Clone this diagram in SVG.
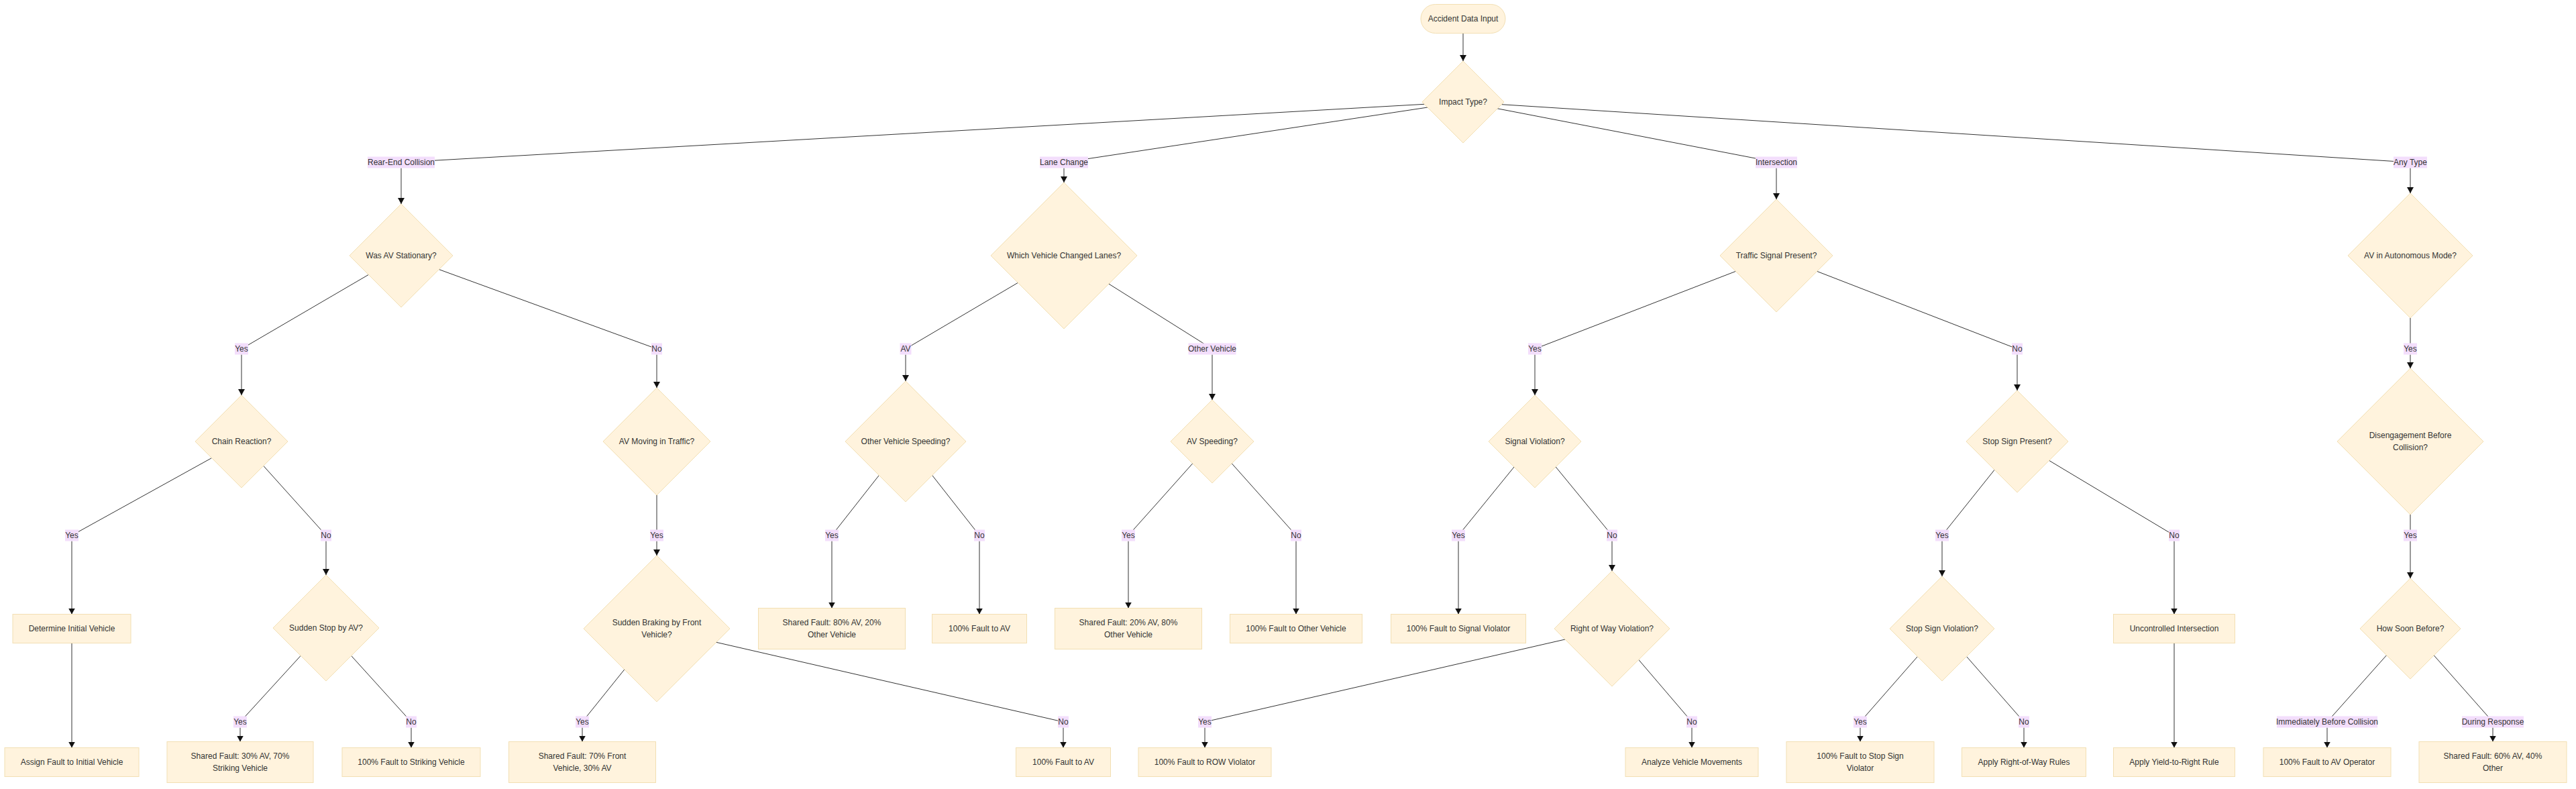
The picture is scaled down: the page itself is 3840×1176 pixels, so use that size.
<svg xmlns="http://www.w3.org/2000/svg" width="3840" height="1176" viewBox="0 0 3840 1176">
<style>
.n{fill:#fff3dd;stroke:#f2dfb3;stroke-width:1}
.t{font-family:"Liberation Sans",Arial,sans-serif;font-size:12px;fill:#333;text-anchor:middle;dominant-baseline:central}
.lb{fill:#f3defc}
.e{stroke:#333;stroke-width:1;fill:none}
.a{stroke:#333;stroke-width:1;fill:none;marker-end:url(#arr)}
</style>
<defs>
<marker id="arr" viewBox="0 0 9 10" refX="9" refY="5" markerWidth="9" markerHeight="10" markerUnits="userSpaceOnUse" orient="auto">
<path d="M0,0 L9,5 L0,10 z" fill="#111"/>
</marker>
</defs>
<rect width="3840" height="1176" fill="#fff"/>
<g id="connectors">
<path class="a" d="M2181,49.5 L2181,91"/>
<path class="e" d="M2123.3,155.3 L598,242"/><path class="a" d="M598,250.5 L598,304"/>
<path class="e" d="M2128.1,160 L1586,242"/><path class="a" d="M1586,250.5 L1586,272"/>
<path class="e" d="M2232.1,161.8 L2648,242"/><path class="a" d="M2648,250.5 L2648,297"/>
<path class="e" d="M2238.3,155.7 L3593,242"/><path class="a" d="M3593,250.5 L3593,288"/>
<path class="e" d="M549.4,409.4 L360,520"/><path class="a" d="M360,528.5 L360,589"/>
<path class="e" d="M654.4,401.6 L979,520"/><path class="a" d="M979,528.5 L979,578"/>
<path class="e" d="M1517.4,421.4 L1350,520"/><path class="a" d="M1350,528.5 L1350,568"/>
<path class="e" d="M1652.9,423.1 L1807,520"/><path class="a" d="M1807,528.5 L1807,596"/>
<path class="e" d="M2587.4,404.4 L2288,520"/><path class="a" d="M2288,528.5 L2288,589"/>
<path class="e" d="M2708.6,404.4 L3007,520"/><path class="a" d="M3007,528.5 L3007,582"/>
<path class="e" d="M3593,474 L3593,520"/><path class="a" d="M3593,528.5 L3593,549"/>
<path class="e" d="M315.6,682.6 L107,798"/><path class="a" d="M107,806.5 L107,915.5"/>
<path class="e" d="M392.7,694.3 L486,798"/><path class="a" d="M486,806.5 L486,857"/>
<path class="e" d="M979,738 L979,798"/><path class="a" d="M979,806.5 L979,828"/>
<path class="e" d="M1310.4,708.4 L1240,798"/><path class="a" d="M1240,806.5 L1240,906.5"/>
<path class="e" d="M1389.6,708.4 L1460,798"/><path class="a" d="M1460,806.5 L1460,915.5"/>
<path class="e" d="M1777.8,690.8 L1682,798"/><path class="a" d="M1682,806.5 L1682,906.5"/>
<path class="e" d="M1836.2,690.8 L1932,798"/><path class="a" d="M1932,806.5 L1932,915.5"/>
<path class="e" d="M2257,696 L2174,798"/><path class="a" d="M2174,806.5 L2174,915.5"/>
<path class="e" d="M2319.1,695.9 L2403,798"/><path class="a" d="M2403,806.5 L2403,851"/>
<path class="e" d="M2973.2,700.2 L2895,798"/><path class="a" d="M2895,806.5 L2895,859"/>
<path class="e" d="M3054.6,686.4 L3241,798"/><path class="a" d="M3241,806.5 L3241,915.5"/>
<path class="e" d="M3593,767 L3593,798"/><path class="a" d="M3593,806.5 L3593,862"/>
<path class="a" d="M107,958.5 L107,1114.5"/>
<path class="e" d="M448.3,977.3 L358,1076"/><path class="a" d="M358,1084.5 L358,1105.5"/>
<path class="e" d="M523.6,977.4 L613,1076"/><path class="a" d="M613,1084.5 L613,1114.5"/>
<path class="e" d="M930.8,997.9 L868,1076"/><path class="a" d="M868,1084.5 L868,1105.5"/>
<path class="e" d="M1067.7,957.3 L1585,1076"/><path class="a" d="M1585,1084.5 L1585,1114.5"/>
<path class="e" d="M2333,953 L1796,1076"/><path class="a" d="M1796,1084.5 L1796,1114.5"/>
<path class="e" d="M2442.7,983.3 L2522,1076"/><path class="a" d="M2522,1084.5 L2522,1114.5"/>
<path class="e" d="M2858.5,978.5 L2773,1076"/><path class="a" d="M2773,1084.5 L2773,1105.5"/>
<path class="e" d="M2931.5,978.5 L3017,1076"/><path class="a" d="M3017,1084.5 L3017,1114.5"/>
<path class="a" d="M3241,958.5 L3241,1114.5"/>
<path class="e" d="M3557.6,976.6 L3469,1076"/><path class="a" d="M3469,1084.5 L3469,1114.5"/>
<path class="e" d="M3628.2,976.8 L3716,1076"/><path class="a" d="M3716,1084.5 L3716,1105.5"/>
</g>
<g id="edge-labels">
<g><rect class="lb" x="548" y="233.5" width="100" height="17"/><text class="t" x="598" y="242">Rear-End Collision</text></g>
<g><rect class="lb" x="1550" y="233.5" width="72" height="17"/><text class="t" x="1586" y="242">Lane Change</text></g>
<g><rect class="lb" x="2617" y="233.5" width="62" height="17"/><text class="t" x="2648" y="242">Intersection</text></g>
<g><rect class="lb" x="3568" y="233.5" width="50" height="17"/><text class="t" x="3593" y="242">Any Type</text></g>
<g><rect class="lb" x="350" y="511.5" width="20" height="17"/><text class="t" x="360" y="520">Yes</text></g>
<g><rect class="lb" x="971" y="511.5" width="16" height="17"/><text class="t" x="979" y="520">No</text></g>
<g><rect class="lb" x="1341.5" y="511.5" width="17" height="17"/><text class="t" x="1350" y="520">AV</text></g>
<g><rect class="lb" x="1771.5" y="511.5" width="71" height="17"/><text class="t" x="1807" y="520">Other Vehicle</text></g>
<g><rect class="lb" x="2278" y="511.5" width="20" height="17"/><text class="t" x="2288" y="520">Yes</text></g>
<g><rect class="lb" x="2999" y="511.5" width="16" height="17"/><text class="t" x="3007" y="520">No</text></g>
<g><rect class="lb" x="3583" y="511.5" width="20" height="17"/><text class="t" x="3593" y="520">Yes</text></g>
<g><rect class="lb" x="97" y="789.5" width="20" height="17"/><text class="t" x="107" y="798">Yes</text></g>
<g><rect class="lb" x="478" y="789.5" width="16" height="17"/><text class="t" x="486" y="798">No</text></g>
<g><rect class="lb" x="969" y="789.5" width="20" height="17"/><text class="t" x="979" y="798">Yes</text></g>
<g><rect class="lb" x="1230" y="789.5" width="20" height="17"/><text class="t" x="1240" y="798">Yes</text></g>
<g><rect class="lb" x="1452" y="789.5" width="16" height="17"/><text class="t" x="1460" y="798">No</text></g>
<g><rect class="lb" x="1672" y="789.5" width="20" height="17"/><text class="t" x="1682" y="798">Yes</text></g>
<g><rect class="lb" x="1924" y="789.5" width="16" height="17"/><text class="t" x="1932" y="798">No</text></g>
<g><rect class="lb" x="2164" y="789.5" width="20" height="17"/><text class="t" x="2174" y="798">Yes</text></g>
<g><rect class="lb" x="2395" y="789.5" width="16" height="17"/><text class="t" x="2403" y="798">No</text></g>
<g><rect class="lb" x="2885" y="789.5" width="20" height="17"/><text class="t" x="2895" y="798">Yes</text></g>
<g><rect class="lb" x="3233" y="789.5" width="16" height="17"/><text class="t" x="3241" y="798">No</text></g>
<g><rect class="lb" x="3583" y="789.5" width="20" height="17"/><text class="t" x="3593" y="798">Yes</text></g>
<g><rect class="lb" x="348" y="1067.5" width="20" height="17"/><text class="t" x="358" y="1076">Yes</text></g>
<g><rect class="lb" x="605" y="1067.5" width="16" height="17"/><text class="t" x="613" y="1076">No</text></g>
<g><rect class="lb" x="858" y="1067.5" width="20" height="17"/><text class="t" x="868" y="1076">Yes</text></g>
<g><rect class="lb" x="1577" y="1067.5" width="16" height="17"/><text class="t" x="1585" y="1076">No</text></g>
<g><rect class="lb" x="1786" y="1067.5" width="20" height="17"/><text class="t" x="1796" y="1076">Yes</text></g>
<g><rect class="lb" x="2514" y="1067.5" width="16" height="17"/><text class="t" x="2522" y="1076">No</text></g>
<g><rect class="lb" x="2763" y="1067.5" width="20" height="17"/><text class="t" x="2773" y="1076">Yes</text></g>
<g><rect class="lb" x="3009" y="1067.5" width="16" height="17"/><text class="t" x="3017" y="1076">No</text></g>
<g><rect class="lb" x="3394" y="1067.5" width="150" height="17"/><text class="t" x="3469" y="1076">Immediately Before Collision</text></g>
<g><rect class="lb" x="3670" y="1067.5" width="92" height="17"/><text class="t" x="3716" y="1076">During Response</text></g>
</g>
<g id="start"><rect class="n" x="2118" y="6.5" width="126" height="43" rx="21.5"/><text class="t" x="2181" y="28">Accident Data Input</text></g>
<g id="impact"><polygon class="n" points="2181,91 2242,152 2181,213 2120,152"/><text class="t" x="2181" y="152">Impact Type?</text></g>
<g id="was-av-stationary"><polygon class="n" points="598,304 675,381 598,458 521,381"/><text class="t" x="598" y="381">Was AV Stationary?</text></g>
<g id="which-vehicle"><polygon class="n" points="1586,272 1695,381 1586,490 1477,381"/><text class="t" x="1586" y="381">Which Vehicle Changed Lanes?</text></g>
<g id="traffic-signal"><polygon class="n" points="2648,297 2732,381 2648,465 2564,381"/><text class="t" x="2648" y="381">Traffic Signal Present?</text></g>
<g id="autonomous-mode"><polygon class="n" points="3593,288 3686,381 3593,474 3500,381"/><text class="t" x="3593" y="381">AV in Autonomous Mode?</text></g>
<g id="chain-reaction"><polygon class="n" points="360,589 429,658 360,727 291,658"/><text class="t" x="360" y="658">Chain Reaction?</text></g>
<g id="av-moving"><polygon class="n" points="979,578 1059,658 979,738 899,658"/><text class="t" x="979" y="658">AV Moving in Traffic?</text></g>
<g id="other-speeding"><polygon class="n" points="1350,568 1440,658 1350,748 1260,658"/><text class="t" x="1350" y="658">Other Vehicle Speeding?</text></g>
<g id="av-speeding"><polygon class="n" points="1807,596 1869,658 1807,720 1745,658"/><text class="t" x="1807" y="658">AV Speeding?</text></g>
<g id="signal-violation"><polygon class="n" points="2288,589 2357,658 2288,727 2219,658"/><text class="t" x="2288" y="658">Signal Violation?</text></g>
<g id="stop-sign-present"><polygon class="n" points="3007,582 3083,658 3007,734 2931,658"/><text class="t" x="3007" y="658">Stop Sign Present?</text></g>
<g id="disengagement"><polygon class="n" points="3593,549 3702,658 3593,767 3484,658"/><text class="t" x="3593" y="649">Disengagement Before</text><text class="t" x="3593" y="667">Collision?</text></g>
<g id="determine-initial"><rect class="n" x="19" y="915.5" width="176" height="43"/><text class="t" x="107" y="937">Determine Initial Vehicle</text></g>
<g id="sudden-stop"><polygon class="n" points="486,857 565,936 486,1015 407,936"/><text class="t" x="486" y="936">Sudden Stop by AV?</text></g>
<g id="sudden-braking"><polygon class="n" points="979,828 1088,937 979,1046 870,937"/><text class="t" x="979" y="928">Sudden Braking by Front</text><text class="t" x="979" y="946">Vehicle?</text></g>
<g id="shared-80av"><rect class="n" x="1130.5" y="906.5" width="219" height="61"/><text class="t" x="1240" y="928">Shared Fault: 80% AV, 20%</text><text class="t" x="1240" y="946">Other Vehicle</text></g>
<g id="fault-av-1"><rect class="n" x="1389.5" y="915.5" width="141" height="43"/><text class="t" x="1460" y="937">100% Fault to AV</text></g>
<g id="shared-20av"><rect class="n" x="1572.5" y="906.5" width="219" height="61"/><text class="t" x="1682" y="928">Shared Fault: 20% AV, 80%</text><text class="t" x="1682" y="946">Other Vehicle</text></g>
<g id="fault-other"><rect class="n" x="1833.5" y="915.5" width="197" height="43"/><text class="t" x="1932" y="937">100% Fault to Other Vehicle</text></g>
<g id="fault-signal"><rect class="n" x="2073.5" y="915.5" width="201" height="43"/><text class="t" x="2174" y="937">100% Fault to Signal Violator</text></g>
<g id="row-violation"><polygon class="n" points="2403,851 2489,937 2403,1023 2317,937"/><text class="t" x="2403" y="937">Right of Way Violation?</text></g>
<g id="stop-sign-violation"><polygon class="n" points="2895,859 2973,937 2895,1015 2817,937"/><text class="t" x="2895" y="937">Stop Sign Violation?</text></g>
<g id="uncontrolled"><rect class="n" x="3150.5" y="915.5" width="181" height="43"/><text class="t" x="3241" y="937">Uncontrolled Intersection</text></g>
<g id="how-soon"><polygon class="n" points="3593,862 3668,937 3593,1012 3518,937"/><text class="t" x="3593" y="937">How Soon Before?</text></g>
<g id="assign-initial"><rect class="n" x="7" y="1114.5" width="200" height="43"/><text class="t" x="107" y="1136">Assign Fault to Initial Vehicle</text></g>
<g id="shared-30av"><rect class="n" x="249" y="1105.5" width="218" height="61"/><text class="t" x="358" y="1127">Shared Fault: 30% AV, 70%</text><text class="t" x="358" y="1145">Striking Vehicle</text></g>
<g id="fault-striking"><rect class="n" x="510" y="1114.5" width="206" height="43"/><text class="t" x="613" y="1136">100% Fault to Striking Vehicle</text></g>
<g id="shared-70front"><rect class="n" x="758.5" y="1105.5" width="219" height="61"/><text class="t" x="868" y="1127">Shared Fault: 70% Front</text><text class="t" x="868" y="1145">Vehicle, 30% AV</text></g>
<g id="fault-av-2"><rect class="n" x="1514.5" y="1114.5" width="141" height="43"/><text class="t" x="1585" y="1136">100% Fault to AV</text></g>
<g id="fault-row"><rect class="n" x="1697" y="1114.5" width="198" height="43"/><text class="t" x="1796" y="1136">100% Fault to ROW Violator</text></g>
<g id="analyze"><rect class="n" x="2423" y="1114.5" width="198" height="43"/><text class="t" x="2522" y="1136">Analyze Vehicle Movements</text></g>
<g id="fault-stop"><rect class="n" x="2663" y="1105.5" width="220" height="61"/><text class="t" x="2773" y="1127">100% Fault to Stop Sign</text><text class="t" x="2773" y="1145">Violator</text></g>
<g id="apply-row"><rect class="n" x="2924.5" y="1114.5" width="185" height="43"/><text class="t" x="3017" y="1136">Apply Right-of-Way Rules</text></g>
<g id="apply-yield"><rect class="n" x="3150.5" y="1114.5" width="181" height="43"/><text class="t" x="3241" y="1136">Apply Yield-to-Right Rule</text></g>
<g id="fault-operator"><rect class="n" x="3374" y="1114.5" width="190" height="43"/><text class="t" x="3469" y="1136">100% Fault to AV Operator</text></g>
<g id="shared-60av"><rect class="n" x="3606" y="1105.5" width="220" height="61"/><text class="t" x="3716" y="1127">Shared Fault: 60% AV, 40%</text><text class="t" x="3716" y="1145">Other</text></g>
</svg>
